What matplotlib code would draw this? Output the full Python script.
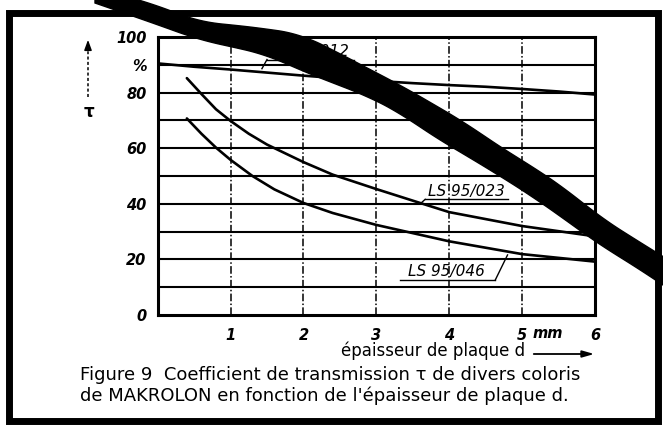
import numpy as np
import matplotlib
matplotlib.use("Agg")
import matplotlib.pyplot as plt
from matplotlib.lines import Line2D
from matplotlib.patches import Rectangle, Polygon

# ---------------- data ----------------
d_012 = [0, 0.5, 1, 1.5, 2, 2.5, 3, 3.5, 4, 4.5, 5, 5.5, 6]
tau_012 = [90.5, 89.3, 88.3, 87.2, 86.1, 85.1, 84.2, 83.4, 82.7, 82.1, 81.3, 80.4, 79.3]

d_023 = [0.4, 0.6, 0.8, 1.0, 1.25, 1.5, 2.0, 2.4, 3.0, 3.6, 4.0, 5.0, 6.0]
tau_023 = [85.2, 79.5, 74.0, 69.8, 65.2, 61.3, 55.0, 50.5, 45.3, 40.3, 37.0, 32.0, 28.3]

d_046 = [0.4, 0.6, 0.8, 1.0, 1.3, 1.6, 2.0, 2.4, 3.0, 4.0, 5.0, 6.0]
tau_046 = [70.7, 65.2, 60.2, 55.8, 50.0, 45.2, 40.3, 36.7, 32.4, 26.5, 21.9, 19.2]

series_names = ["LS 95/012", "LS 95/023", "LS 95/046"]
x_ticks = [1, 2, 3, 4, 5, 6]
x_tick_labels = ["1", "2", "3", "4", "5", "6"]
y_ticks = [0, 20, 40, 60, 80, 90, 100]
y_tick_labels = ["0", "20", "40", "60", "80", "%", "100"]
h_grid = [10, 20, 30, 40, 50, 60, 70, 80, 90]
v_grid = [1, 2, 3, 4, 5]

x_label = "épaisseur de plaque d"
caption_1 = "Figure 9  Coefficient de transmission τ de divers coloris"
caption_2 = "de MAKROLON en fonction de l'épaisseur de plaque d."

# ---------------- figure ----------------
W, H = 663, 426
fig = plt.figure(figsize=(W / 100, H / 100), dpi=100)
fig.patch.set_facecolor("white")


def fx(x):
    return x / W


def fy(y):
    return 1 - y / H


ax_l, ax_r, ax_t, ax_b = 157.7, 595, 37, 315
ax = fig.add_axes([fx(ax_l), fy(ax_b), (ax_r - ax_l) / W, (ax_b - ax_t) / H])
ax.set_xlim(0, 6)
ax.set_ylim(0, 100)

for yv in h_grid:
    ax.axhline(yv, color="black", lw=1.5, zorder=1)
for xv in v_grid:
    ax.axvline(xv, color="black", lw=1.1, ls=(0, (5, 1.5, 1, 1.5)), zorder=1)

for sp in ax.spines.values():
    sp.set_linewidth(2.2)

curve_kw = dict(color="black", lw=1.9, solid_capstyle="round", solid_joinstyle="round",
                zorder=3)
ax.plot(d_012, tau_012, **curve_kw)
ax.plot(d_023, tau_023, **curve_kw)
ax.plot(d_046, tau_046, **curve_kw)

tick_font = dict(fontstyle="italic", fontweight="bold", fontsize=10.5, family="DejaVu Sans")
ax.set_yticks(y_ticks, y_tick_labels, **tick_font)
ax.set_xticks(x_ticks, x_tick_labels, **tick_font)
ax.tick_params(axis="both", length=0)
ax.tick_params(axis="y", pad=8)
ax.tick_params(axis="x", pad=9)
ax.text(5.35, -0.066, "mm", transform=ax.get_xaxis_transform(), ha="center", va="center",
        **tick_font)

# curve labels (technical italic lettering, underlined with a leader)
lab_kw = dict(fontstyle="italic", fontsize=11, family="DejaVu Sans", ha="center",
              va="center", zorder=4)
ax.text(2.09, 94.8, series_names[0], **lab_kw)
ax.plot([1.50, 2.70], [91.9, 91.9], color="black", lw=1.0, zorder=4)
ax.plot([1.50, 1.43], [91.9, 88.6], color="black", lw=1.0, zorder=4)

ax.text(4.24, 44.6, series_names[1], **lab_kw)
ax.plot([3.67, 4.81], [41.6, 41.6], color="black", lw=1.0, zorder=4)
ax.plot([3.67, 3.61], [41.6, 40.2], color="black", lw=1.0, zorder=4)

ax.text(3.96, 15.5, series_names[2], **lab_kw)
ax.plot([3.32, 4.63], [12.5, 12.5], color="black", lw=1.0, zorder=4)
ax.plot([4.63, 4.80], [12.5, 21.6], color="black", lw=1.0, zorder=4)

# y axis symbol with upward dashed arrow
fig.add_artist(Line2D([fx(88), fx(88)], [fy(97), fy(52)], color="black", lw=1.1,
                      ls=(0, (2, 1.5))))
ax.annotate("", xy=(88, H - 37), xycoords="figure pixels", xytext=(88, H - 54),
            textcoords="figure pixels",
            arrowprops=dict(arrowstyle="-|>,head_length=0.6,head_width=0.22",
                            color="black", lw=1.1))
fig.text(fx(89), fy(112), "τ", fontsize=12, fontweight="bold", ha="center", va="center",
         family="DejaVu Sans")

# x axis label with arrow
fig.text(fx(525), fy(351), x_label, ha="right", va="center", family="DejaVu Sans",
         fontsize=12, color="black")
ax.annotate("", xy=(597, H - 354), xycoords="figure pixels", xytext=(531, H - 354),
            textcoords="figure pixels",
            arrowprops=dict(arrowstyle="-|>,head_length=0.7,head_width=0.2",
                            color="black", lw=1.3))

# caption
cap_font = dict(family="DejaVu Sans", fontsize=13.0, color="black")
fig.text(fx(80), fy(375), caption_1, ha="left", va="center", **cap_font)
fig.text(fx(80), fy(396), caption_2, ha="left", va="center", **cap_font)

# scanned frame around the figure
fig.add_artist(Rectangle((fx(8.5), fy(421)), fx(658) - fx(8.5), fy(13.5) - fy(421),
                         transform=fig.transFigure, fill=False, ec="black", lw=5))

# heavy diagonal strike-through brush stroke of the scan (upper / lower edges, pixels)
s_x = [95, 150, 200, 233, 267, 300, 333, 367, 400, 433, 467, 500, 533, 567, 600, 633, 675]
s_up = [-12, 3, 22, 25, 29, 34, 50, 68, 85, 104, 124, 147, 167, 190, 217, 238, 264]
s_lo = [3, 22, 40, 47, 55, 70, 83, 96, 113, 136, 156, 176, 197, 221, 245, 265, 293]
gx = np.linspace(s_x[0], s_x[-1], 400)
k = np.ones(31) / 31


def smooth(v):
    vv = np.interp(gx, s_x, v)
    pad = np.concatenate([np.full(15, vv[0]) - (vv[1] - vv[0]) * np.arange(15, 0, -1),
                          vv,
                          np.full(15, vv[-1]) + (vv[-1] - vv[-2]) * np.arange(1, 16)])
    return np.convolve(pad, k, mode="valid")


up_s, lo_s = smooth(s_up), smooth(s_lo)
poly = [(fx(a), fy(b)) for a, b in zip(gx, up_s)] + \
       [(fx(a), fy(b)) for a, b in zip(gx[::-1], lo_s[::-1])]
fig.add_artist(Polygon(poly, closed=True, transform=fig.transFigure, fc="black",
                       ec="black", lw=1, zorder=10))

fig.savefig("out.png", dpi=100, facecolor="white")
